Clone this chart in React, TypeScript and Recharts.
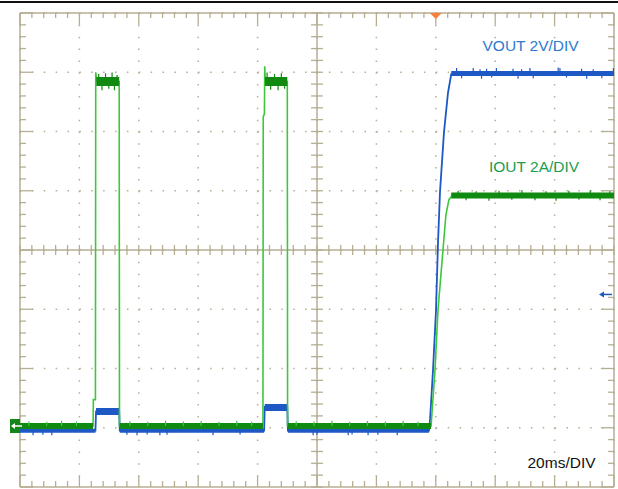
import {
  ComposedChart,
  Line,
  XAxis,
  YAxis,
  CartesianGrid,
  ReferenceLine,
  ReferenceDot,
} from "recharts";

// time in ms relative to the trigger (20 ms/div)
const timeDivs = [-140, -120, -100, -80, -60, -40, -20, 0, 20, 40, 60];
// vertical scale: 2 V/div and 2 A/div, ground of both channels on the 0 level
const levelDivs = [-2, 0, 2, 4, 6, 8, 10, 12, 14];
const timeMinor = Array.from({ length: 51 }, (_, i) => -140 + i * 4);
const levelMinor = Array.from({ length: 41 }, (_, i) => -2 + i * 0.4);

// VOUT trace [ms, V]
const voutTrace: [number, number][] = [
  [-140, -0.1], [-114.6, -0.1], [-114.4, 0.55], [-106.6, 0.55], [-106.4, -0.1],
  [-57.8, -0.1], [-57.6, 0.7], [-50.0, 0.7], [-49.8, -0.1], [-2.3, -0.1],
  [-1.95, 0.26], [-0.94, 1.95], [0.07, 3.97], [0.74, 6.24], [1.41, 7.96],
  [2.76, 9.98], [4.1, 11.3], [5.2, 11.94], [60, 11.96],
];
// noisy flat parts of VOUT [start ms, end ms, V]
const voutBaseBand: [number, number, number][] = [
  [-140, -114.6, -0.1], [-106.4, -57.8, -0.1], [-49.8, -2.3, -0.1],
];
const voutPulseBand: [number, number, number][] = [
  [-114.4, -106.6, 0.55], [-57.6, -50.0, 0.68],
];
const voutTopBand: [number, number, number][] = [[5.2, 60, 11.96]];
// noise spikes [ms, offset V]
const voutBaseSpikes: [number, number][] = [
  [-135.6, -0.15], [-132.3, -0.14], [-129.3, -0.15], [-104.0, -0.14], [-100.6, -0.15],
  [-97.2, -0.13], [-92.9, -0.15], [-90.5, -0.14], [-75.0, -0.15], [-65.9, -0.13],
  [-41.3, -0.15], [-40.0, -0.14], [-29.5, -0.15], [-28.2, -0.13], [-22.8, -0.15],
  [-19.5, -0.14], [-13.0, -0.15],
];
const voutTopSpikes: [number, number][] = [
  [7.0, 0.18], [8.7, -0.16], [12.6, 0.18], [14.9, 0.14], [15.4, -0.18], [17.1, 0.16],
  [18.8, -0.14], [20.4, 0.18], [26.0, 0.16], [27.7, -0.18], [28.9, 0.14], [31.7, 0.18],
  [32.8, -0.16], [41.2, 0.2], [41.8, 0.18], [44.0, -0.14], [49.1, 0.16], [50.8, -0.18],
  [53.0, 0.14], [55.9, -0.16], [59.8, 0.18],
];

// IOUT trace [ms, A]
const ioutTrace: [number, number][] = [
  [-140, 0.06], [-115.4, 0.06], [-115.3, 0.95], [-114.6, 0.95], [-114.5, 12.0],
  [-114.2, 11.69], [-106.6, 11.69], [-106.5, 0.06], [-58.2, 0.06], [-58.1, 10.5],
  [-57.7, 10.6], [-57.6, 12.2], [-57.4, 11.69], [-50.0, 11.69], [-49.9, 0.06],
  [-1.6, 0.06], [-0.27, 1.95], [0.74, 3.97], [2.42, 6.0], [3.4, 7.18],
  [4.4, 7.69], [5.45, 7.84], [60, 7.84],
];
const ioutBaseBand: [number, number, number][] = [
  [-140, -115.4, 0.06], [-106.5, -58.2, 0.06], [-49.9, -1.6, 0.06],
];
const ioutPulseBand: [number, number, number][] = [
  [-114.3, -106.6, 11.69], [-57.5, -50.0, 11.69],
];
const ioutTopBand: [number, number, number][] = [[5.2, 60, 7.84]];
const ioutBaseSpikes: [number, number][] = [
  [-137, 0.16], [-131, 0.14], [-126, 0.18], [-121, 0.15], [-103, 0.16], [-97, 0.14],
  [-91, 0.18], [-85, 0.15], [-79, 0.17], [-73, 0.14], [-67, 0.18], [-62, 0.15],
  [-47, 0.16], [-41, 0.15], [-35, 0.18], [-29, 0.14], [-23, 0.17], [-17, 0.15],
  [-11, 0.18], [-6, 0.14],
];
const ioutPulseSpikes: [number, number][] = [
  [-113.5, 0.25], [-112.4, -0.3], [-111.2, 0.28], [-110.1, -0.25], [-109.0, 0.3],
  [-108.2, -0.3], [-107.3, 0.22], [-56.8, 0.3], [-55.6, -0.28], [-54.3, 0.25],
  [-53.1, -0.3], [-52.0, 0.28], [-50.9, -0.25],
];
const ioutTopSpikes: [number, number][] = [
  [7.5, 0.16], [10.2, -0.16], [13.6, 0.14], [17.9, -0.18], [21.3, 0.16], [25.6, -0.14],
  [29.0, 0.18], [33.4, -0.16], [37.1, 0.14], [40.5, -0.18], [44.8, 0.16], [48.2, -0.14],
  [52.0, 0.18], [55.3, -0.16], [58.6, 0.14],
];

const toPoints = (pairs: [number, number][]) => pairs.map(([t, v]) => ({ t, v }));
const toBands = (bands: [number, number, number][]) =>
  bands.flatMap(([a, b, v]) => [
    { t: a, v },
    { t: b, v },
    { t: b, v: null },
  ]);
// spikes sit on the band level that holds at that time
const toSpikes = (spikes: [number, number][], bands: [number, number, number][]) =>
  spikes.flatMap(([t, dv]) => {
    const band = bands.find(([a, b]) => t >= a && t <= b);
    const base = band ? band[2] : 0;
    return [
      { t, v: base },
      { t, v: base + dv },
      { t, v: null },
    ];
  });

const gridColor = "#b6ae93";
const blue = "#1d58c4";
const darkGreen = "#118a12";
const lightGreen = "#3cc83c";

type Seg = [{ x: number; y: number }, { x: number; y: number }];

const tickSegments: Seg[] = [
  ...timeMinor.map((x): Seg => {
    const major = x % 20 === 0;
    return [{ x, y: 14 }, { x, y: 14 - (major ? 0.4 : 0.17) }];
  }),
  ...timeMinor.map((x): Seg => {
    const major = x % 20 === 0;
    return [{ x, y: -2 }, { x, y: -2 + (major ? 0.37 : 0.2) }];
  }),
  ...timeMinor.map((x): Seg => [{ x, y: 6 - 0.17 }, { x, y: 6 + 0.17 }]),
  ...levelMinor.map((y): Seg => {
    const major = Math.abs(y / 2 - Math.round(y / 2)) < 0.01;
    return [{ x: -140, y }, { x: -140 + (major ? 4.4 : 2), y }];
  }),
  ...levelMinor.map((y): Seg => {
    const major = Math.abs(y / 2 - Math.round(y / 2)) < 0.01;
    return [{ x: 60, y }, { x: 60 - (major ? 4.4 : 2), y }];
  }),
  ...levelMinor.map((y): Seg => [{ x: -42, y }, { x: -38, y }]),
];

const GroundMarker = (p: any) => (
  <g>
    <rect x={p.cx - 10} y={p.cy - 7} width={10} height={14} fill="#14851a" />
    <line x1={p.cx - 8} y1={p.cy} x2={p.cx + 2} y2={p.cy} stroke="#fff" strokeWidth={1.5} />
    <polygon points={`${p.cx - 9},${p.cy} ${p.cx - 5},${p.cy - 3} ${p.cx - 5},${p.cy + 3}`} fill="#fff" />
  </g>
);

const TriggerMarker = (p: any) => (
  <polygon points={`${p.cx - 6},${p.cy} ${p.cx + 6},${p.cy} ${p.cx},${p.cy + 6}`} fill="#f7813a" />
);

const LevelArrow = (p: any) => (
  <g>
    <line x1={p.cx - 12} y1={p.cy} x2={p.cx - 2} y2={p.cy} stroke={blue} strokeWidth={1.5} />
    <polygon points={`${p.cx - 15},${p.cy} ${p.cx - 10},${p.cy - 3} ${p.cx - 10},${p.cy + 3}`} fill={blue} />
  </g>
);

const lineProps = { dataKey: "v", dot: false, isAnimationActive: false } as const;

export default function App() {
  return (
    <div style={{ position: "absolute", left: 0, top: 0, width: 618, height: 489, background: "#fff" }}>
      <div style={{ position: "absolute", left: 0, top: 1, width: 618, height: 2, background: "#111" }} />
      <ComposedChart width={618} height={489} margin={{ top: 13, right: 4, bottom: 2, left: 20 }}>
        <XAxis type="number" dataKey="t" domain={[-140, 60]} ticks={timeDivs} hide allowDataOverflow />
        <YAxis type="number" domain={[-2, 14]} ticks={levelDivs} hide allowDataOverflow />
        <CartesianGrid
          vertical={false}
          horizontalValues={levelDivs}
          stroke={gridColor}
          strokeWidth={1.5}
          strokeDasharray="1.5 10.38"
        />
        <CartesianGrid
          horizontal={false}
          verticalValues={timeDivs}
          stroke={gridColor}
          strokeWidth={1.5}
          strokeDasharray="1.5 10.35"
        />
        <ReferenceLine y={14} stroke={gridColor} strokeWidth={1.5} />
        <ReferenceLine y={-2} stroke={gridColor} strokeWidth={1.5} />
        <ReferenceLine x={-140} stroke={gridColor} strokeWidth={1.5} />
        <ReferenceLine x={60} stroke={gridColor} strokeWidth={1.5} />
        <ReferenceLine x={-40} stroke={gridColor} strokeWidth={1.5} />
        <ReferenceLine y={6} stroke={gridColor} strokeWidth={1.5} />
        {tickSegments.map((s, i) => (
          <ReferenceLine key={i} segment={s} stroke={gridColor} strokeWidth={1.3} />
        ))}

        <Line {...lineProps} data={toPoints(voutTrace)} stroke={blue} strokeWidth={1.8} />
        <Line {...lineProps} data={toBands(voutBaseBand)} stroke={blue} strokeWidth={4} />
        <Line {...lineProps} data={toBands(voutPulseBand)} stroke={blue} strokeWidth={7} />
        <Line {...lineProps} data={toBands(voutTopBand)} stroke={blue} strokeWidth={5} />
        <Line {...lineProps} data={toSpikes(voutBaseSpikes, voutBaseBand)} stroke={blue} strokeWidth={1.2} />
        <Line {...lineProps} data={toSpikes(voutTopSpikes, voutTopBand)} stroke={blue} strokeWidth={1.2} />

        <Line {...lineProps} data={toPoints(ioutTrace)} stroke={lightGreen} strokeWidth={1.6} />
        <Line {...lineProps} data={toBands(ioutBaseBand)} stroke={darkGreen} strokeWidth={6} />
        <Line {...lineProps} data={toBands(ioutPulseBand)} stroke={darkGreen} strokeWidth={9} />
        <Line {...lineProps} data={toBands(ioutTopBand)} stroke={darkGreen} strokeWidth={6} />
        <Line {...lineProps} data={toSpikes(ioutBaseSpikes, ioutBaseBand)} stroke={lightGreen} strokeWidth={1.2} />
        <Line {...lineProps} data={toSpikes(ioutPulseSpikes, ioutPulseBand)} stroke={darkGreen} strokeWidth={1.2} />
        <Line {...lineProps} data={toSpikes(ioutTopSpikes, ioutTopBand)} stroke={darkGreen} strokeWidth={1.2} />

        <ReferenceDot x={-140} y={0.06} r={0} ifOverflow="visible" shape={GroundMarker} />
        <ReferenceDot x={0} y={14} r={0} ifOverflow="visible" shape={TriggerMarker} />
        <ReferenceDot x={60} y={4.5} r={0} ifOverflow="visible" shape={LevelArrow} />
      </ComposedChart>
      <svg
        width={618}
        height={489}
        style={{ position: "absolute", left: 0, top: 0, pointerEvents: "none" }}
        fontFamily="'Liberation Sans', Arial, sans-serif"
        fontSize={15.5}
      >
        <text x={482.5} y={51} fill="#2b7bd0">VOUT 2V/DIV</text>
        <text x={489} y={171.5} fill="#1d9c52">IOUT 2A/DIV</text>
        <text x={527.5} y={468} fill="#111">20ms/DIV</text>
      </svg>
    </div>
  );
}
